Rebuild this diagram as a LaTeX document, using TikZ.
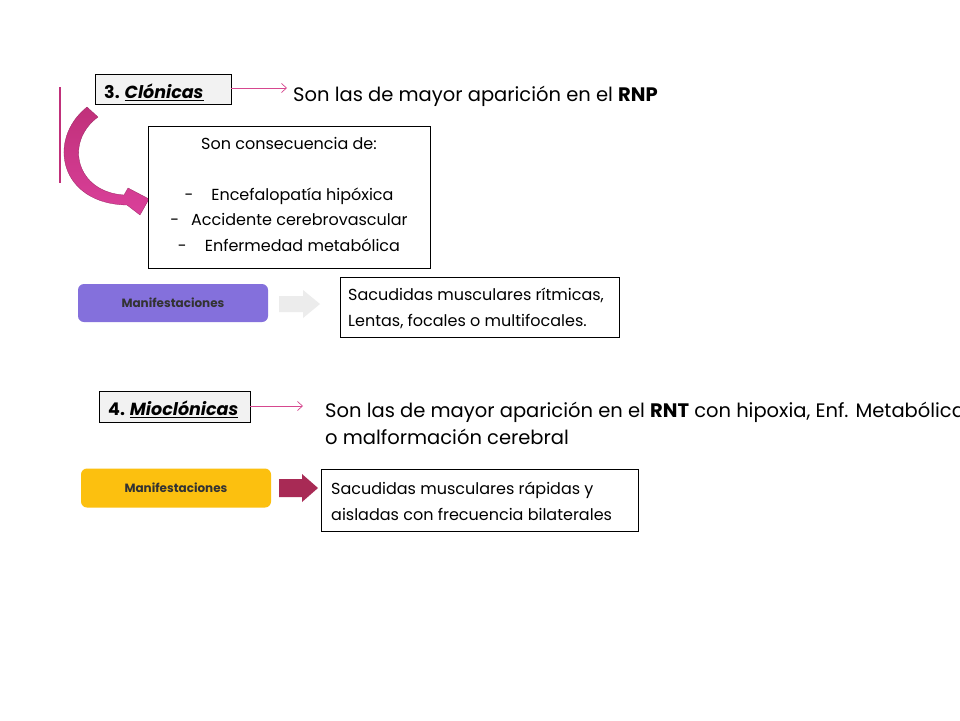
\documentclass[tikz,border=0pt]{standalone}
\usepackage{fontspec}
\setmainfont{Poppins}
\usetikzlibrary{arrows.meta}
\definecolor{pinkline}{HTML}{D6478F}
\definecolor{vline}{HTML}{C0307A}
\definecolor{purp}{HTML}{8470DC}
\definecolor{yell}{HTML}{FCC00F}
\definecolor{darkred}{HTML}{A82A55}
\definecolor{lgray}{HTML}{ECECEC}
\definecolor{labfill}{HTML}{F2F2F2}
\tikzset{
  labelbox/.style={draw=black, fill=labfill, line width=0.8pt},
  textbox/.style={draw=black, fill=white, line width=0.8pt},
  manif/.style={rounded corners=6pt, draw=none},
  pinkarrow/.style={draw=pinkline, line width=0.7pt, -{Straight Barb[length=5pt,width=9pt]}},
  btext/.style={anchor=base west, inner sep=0pt, font=\fontsize{19.5}{23}\selectfont},
  stext/.style={anchor=base west, inner sep=0pt, font=\fontsize{16}{19}\selectfont},
  ctext/.style={anchor=base, inner sep=0pt, font=\fontsize{16}{19}\selectfont},
  mtext/.style={font=\bfseries\fontsize{12}{14}\selectfont, text=black!80},
}
\begin{document}
\begin{tikzpicture}[x=1pt,y=-1pt]
\useasboundingbox (0,0) rectangle (960,720);
\clip (0,0) rectangle (960,720);
\fill[white] (0,0) rectangle (960,720);

% ---- 3. Clonicas
\draw[labelbox] (95,74) rectangle (231,104);
\node[anchor=west, inner sep=0pt, font=\bfseries\fontsize{17.5}{21}\selectfont] (t3) at (104,92) {3. \underline{\itshape Clónicas}};
\coordinate (a3s) at (231,88);
\coordinate (a3e) at (287,88);
\draw[pinkarrow] (a3s) -- (a3e);
\node[btext] (rnp) at (293,101) {Son las de mayor aparición en el \textbf{RNP}};

% vertical line
\draw[vline, line width=1.6pt] (60,87) -- (60,183);

% curved block arrow
\path[top color=vline, bottom color=pinkline!90!magenta, draw=vline!80!black, line width=0.3pt]
  (87,107) -- (98,117)
  .. controls (64,142) and (76,192) .. (124,195)
  -- (128,188) -- (149,199) -- (140,215) -- (127,205)
  .. controls (60,204) and (46,140) .. cycle;

% consequences box
\draw[textbox] (148,126) rectangle (430,268);
\node[ctext] (c0) at (289,149) {Son consecuencia de:};
\node[ctext] (c1) at (289,200) {-\hspace{18pt}Encefalopatía hipóxica};
\node[ctext] (c2) at (289,225) {-\hspace{12pt}Accidente cerebrovascular};
\node[ctext] (c3) at (289,251) {-\hspace{18pt}Enfermedad metabólica};

% Manifestaciones 1
\node[manif, fill=purp, minimum width=190pt, minimum height=38pt, inner sep=0pt] (m1) at (173,303) {};
\node[mtext] at (m1) {Manifestaciones};
\fill[lgray] (279,296) -- (303,296) -- (303,290) -- (320,304) -- (303,318) -- (303,312) -- (279,312) -- cycle;
\draw[textbox] (340,277) rectangle (619,337);
\node[stext] (s1) at (348,300) {Sacudidas musculares rítmicas,};
\node[stext] (s2) at (348,326) {Lentas, focales o multifocales.};

% ---- 4. Mioclonicas
\draw[labelbox] (99,391) rectangle (250,422);
\node[anchor=west, inner sep=0pt, font=\bfseries\fontsize{17.5}{21}\selectfont] (t4) at (108,409) {4. \underline{\itshape Mioclónicas}};
\coordinate (a4s) at (250,406);
\coordinate (a4e) at (303,406);
\draw[pinkarrow] (a4s) -- (a4e);
\node[btext] (rnt) at (325,417) {Son las de mayor aparición en el \textbf{RNT} con hipoxia, Enf. Metabólica};
\node[btext] (rnt2) at (325,444) {o malformación cerebral};

% Manifestaciones 2
\node[manif, fill=yell, minimum width=190pt, minimum height=39pt, inner sep=0pt] (m2) at (176,488) {};
\node[mtext] at (m2) {Manifestaciones};
\fill[darkred] (279,479) -- (302,479) -- (302,474) -- (318,488) -- (302,502) -- (302,497) -- (279,497) -- cycle;
\draw[textbox] (321,469) rectangle (638,531);
\node[stext] (s3) at (331,494) {Sacudidas musculares rápidas y};
\node[stext] (s4) at (331,520) {aisladas con frecuencia bilaterales};
\end{tikzpicture}
\end{document}
